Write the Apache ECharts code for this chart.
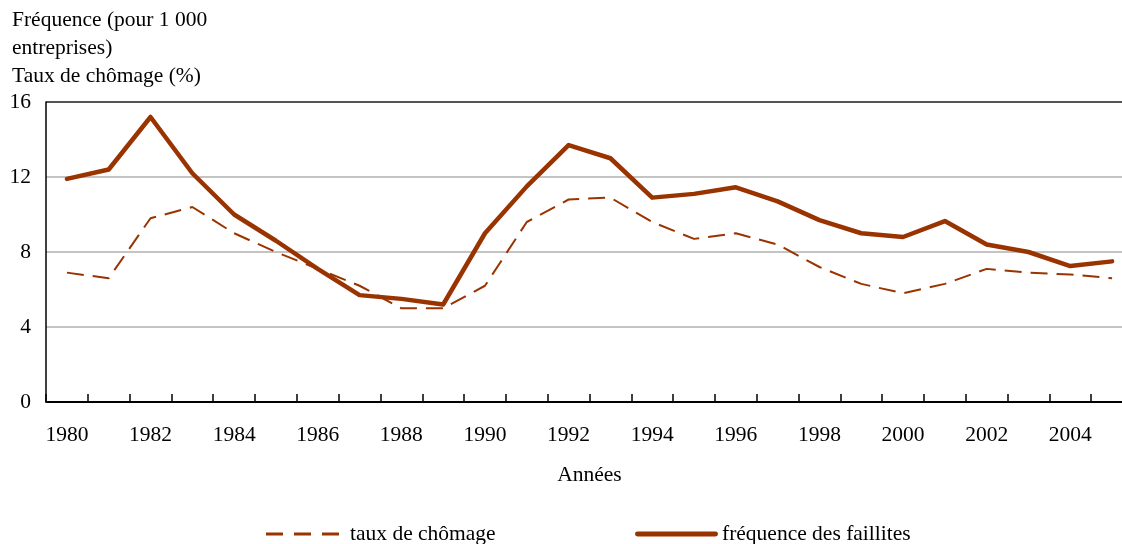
<!DOCTYPE html>
<html>
<head>
<meta charset="utf-8">
<script src="https://cdn.jsdelivr.net/npm/echarts@6/dist/echarts.min.js"></script>
<style>
  html, body { margin: 0; padding: 0; background: #fff; overflow: hidden; }
  /* the plot runs past the right edge of the picture, so the canvas is a bit wider than the window */
  #chart { width: 1133px; height: 544px; }
</style>
</head>
<body>
<div id="chart"></div>
<script>
var years = ['1980', '1981', '1982', '1983', '1984', '1985', '1986', '1987', '1988', '1989',
  '1990', '1991', '1992', '1993', '1994', '1995', '1996', '1997', '1998', '1999',
  '2000', '2001', '2002', '2003', '2004', '2005'];
var chomage = [6.9, 6.6, 9.8, 10.4, 9.0, 8.0, 7.1, 6.2, 5.0, 5.0,
  6.2, 9.6, 10.8, 10.9, 9.6, 8.7, 9.0, 8.4, 7.2, 6.3,
  5.8, 6.3, 7.1, 6.9, 6.8, 6.6];
var faillites = [11.9, 12.4, 15.2, 12.2, 10.0, 8.6, 7.1, 5.7, 5.5, 5.2,
  9.0, 11.5, 13.7, 13.0, 10.9, 11.1, 11.45, 10.7, 9.7, 9.0,
  8.8, 9.65, 8.4, 8.0, 7.25, 7.5];
var yTicks = [0, 4, 8, 12, 16];

var red = '#993300';
var font = '"Liberation Serif", "Times New Roman", serif';
var fs = 21.5;

var chartDom = document.getElementById('chart');
var myChart = echarts.init(chartDom);
var option;

option = {
  animation: false,
  textStyle: { fontFamily: font, color: '#000' },
  title: {
    text: 'Fréquence (pour 1 000\nentreprises)\nTaux de chômage (%)',
    left: 12,
    top: 6,
    padding: 0,
    textStyle: {
      fontFamily: font,
      fontWeight: 'normal',
      fontSize: fs,
      lineHeight: 28,
      color: '#000'
    }
  },
  legend: [{
    data: [{ name: 'taux de chômage', icon: 'path://M0,0H17V3H0Z M28,0H45V3H28Z M56,0H73V3H56Z' }],
    left: 266,
    top: 523,
    padding: 0,
    itemWidth: 73,
    itemHeight: 3,
    itemStyle: { color: red },
    textStyle: { fontFamily: font, fontSize: fs, color: '#000', padding: [0, 0, 0, 6] }
  }, {
    data: [{ name: 'fréquence des faillites', icon: 'path://M2,0H81A2,2 0 0 1 81,5H2A2,2 0 0 1 2,0Z' }],
    left: 635,
    top: 523,
    padding: 0,
    itemWidth: 83,
    itemHeight: 5,
    itemStyle: { color: red },
    textStyle: { fontFamily: font, fontSize: fs, color: '#000', padding: [0, 0, 0, -1] }
  }],
  grid: {
    left: 46,
    right: 0,
    top: 102,
    bottom: 142,
    containLabel: false
  },
  xAxis: {
    type: 'category',
    data: years,
    boundaryGap: true,
    name: 'Années',
    nameLocation: 'middle',
    nameGap: 62,
    nameTextStyle: { fontFamily: font, fontSize: fs, color: '#000' },
    axisLine: { lineStyle: { color: '#000', width: 1.5 } },
    axisTick: { show: true, inside: true, length: 8, interval: 0, lineStyle: { color: '#000', width: 1.5 } },
    axisLabel: {
      interval: 1,
      margin: 22,
      fontFamily: font,
      fontSize: fs,
      color: '#000'
    },
    splitLine: { show: false }
  },
  yAxis: {
    type: 'value',
    min: yTicks[0],
    max: yTicks[yTicks.length - 1],
    interval: 4,
    axisLine: { show: true, lineStyle: { color: '#000', width: 1.5 } },
    axisTick: { show: false },
    axisLabel: {
      margin: 15,
      fontFamily: font,
      fontSize: fs,
      color: '#000'
    },
    splitLine: {
      show: true,
      lineStyle: { color: ['#000', '#c4c4c4', '#c4c4c4', '#c4c4c4', '#555'], width: 2 }
    }
  },
  series: [{
    name: 'taux de chômage',
    type: 'line',
    data: chomage,
    symbol: 'none',
    z: 2,
    lineStyle: { color: red, width: 2, type: [17, 9] },
    itemStyle: { color: red }
  }, {
    name: 'fréquence des faillites',
    type: 'line',
    data: faillites,
    symbol: 'none',
    z: 3,
    lineStyle: { color: red, width: 4.5, join: 'round', cap: 'round' },
    itemStyle: { color: red }
  }]
};

option && myChart.setOption(option);
</script>
</body>
</html>
